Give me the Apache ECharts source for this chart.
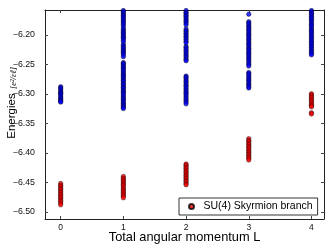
<!DOCTYPE html>
<html><head><meta charset="utf-8">
<script src="https://cdn.jsdelivr.net/npm/echarts@6/dist/echarts.min.js"></script>
<style>html,body{margin:0;padding:0;background:#fff}#c{width:332px;height:249px}</style>
</head><body><div id="c"></div>
<script>
var xTicks = [0, 1, 2, 3, 4];
var yTicks = [-6.50, -6.45, -6.40, -6.35, -6.30, -6.25, -6.20];

var blueL0 = [-6.288,-6.290,-6.292,-6.295,-6.297,-6.299,-6.300,-6.302,-6.305,-6.307,-6.309,-6.311,-6.313,-6.314];
var blueL1 = [-6.159,-6.161,-6.163,-6.166,-6.168,-6.170,-6.173,-6.175,-6.178,-6.180,-6.183,-6.186,
  -6.190,-6.192,-6.195,-6.197,-6.199,-6.202,-6.204,-6.206,-6.209,-6.212,
  -6.217,-6.219,-6.222,-6.224,-6.227,-6.229,-6.231,-6.234,-6.237,
  -6.247,-6.249,-6.251,-6.254,-6.256,-6.258,-6.261,-6.263,-6.266,-6.268,-6.270,-6.272,-6.275,-6.277,-6.279,-6.282,-6.284,-6.287,-6.289,-6.291,-6.294,-6.296,-6.298,-6.300,-6.303,-6.305,-6.308,-6.310,-6.312,-6.315,-6.317,-6.319,-6.321,-6.323,-6.325];
var blueL2 = [-6.159,-6.162,-6.164,-6.167,-6.169,-6.172,-6.175,-6.177,-6.180,-6.183,
  -6.190,-6.193,-6.195,-6.198,-6.200,-6.203,-6.205,-6.208,-6.211,-6.214,
  -6.220,-6.222,-6.225,-6.228,-6.231,-6.234,-6.236,-6.239,-6.242,-6.244,
  -6.270,-6.272,-6.275,-6.278,-6.280,-6.283,-6.286,-6.288,-6.291,-6.294,-6.297,-6.299,-6.302,-6.305,-6.308,-6.311,-6.314,-6.317];
var blueL3 = [-6.165,
  -6.178,-6.180,-6.183,-6.186,-6.188,-6.191,-6.193,-6.196,-6.199,-6.201,-6.204,-6.207,-6.209,-6.212,-6.215,-6.217,-6.220,-6.223,-6.225,-6.228,-6.231,-6.233,-6.236,-6.239,-6.241,-6.244,-6.247,-6.250,-6.253,
  -6.264,-6.266,-6.269,-6.272,-6.275,-6.277,-6.280,-6.283,-6.285,-6.288,-6.290];
var blueL4 = [-6.159,-6.161,-6.164,-6.166,-6.169,-6.171,-6.174,-6.176,-6.179,-6.182,-6.184,-6.187,-6.190,-6.192,-6.195,-6.197,-6.200,-6.203,-6.205,-6.208,-6.211,-6.213,-6.216,-6.219,-6.221,-6.224,-6.227,-6.229,-6.232,-6.234];

var redL0 = [-6.452,-6.455,-6.457,-6.460,-6.462,-6.465,-6.467,-6.470,-6.472,-6.475,-6.477,-6.480,-6.482,-6.485,-6.488];
var redL1 = [-6.440,-6.443,-6.445,-6.448,-6.450,-6.453,-6.455,-6.458,-6.461,-6.463,-6.466,-6.468,-6.471,-6.473,-6.476];
var redL2 = [-6.419,-6.421,-6.424,-6.426,-6.429,-6.432,-6.434,-6.437,-6.439,-6.442,-6.444,-6.447,-6.449,-6.452,-6.454];
var redL3 = [-6.376,-6.379,-6.381,-6.384,-6.386,-6.389,-6.391,-6.394,-6.397,-6.399,-6.402,-6.404,-6.407,-6.409,-6.412];
var redL4 = [-6.300,-6.302,-6.305,-6.307,-6.310,-6.312,-6.315,-6.318,-6.320,-6.322,-6.332,-6.334];

var legendName = 'SU(4) Skyrmion branch';
var xTitle = 'Total angular momentum L';
var yTitle = 'Energies';
var yUnit = '[e²/εℓ]';

function pairs(groups) {
  var out = [];
  groups.forEach(function (g, L) { g.forEach(function (v) { out.push([L, v]); }); });
  return out;
}
var blueData = pairs([blueL0, blueL1, blueL2, blueL3, blueL4]);
var redData = pairs([redL0, redL1, redL2, redL3, redL4]);

function fmt(v) { return (v < 0 ? '\u2212' : '') + Math.abs(v).toFixed(2); }

var chart = echarts.init(document.getElementById('c'), null, { renderer: 'canvas' });
chart.setOption({
  animation: false,
  grid: { left: 45, top: 10, right: 8, bottom: 30, containLabel: false },
  xAxis: [{ type: 'value', min: -0.25, max: 4.2, position: 'bottom',
    axisLine: { onZero: false, lineStyle: { color: '#222' } },
    axisTick: { inside: true, length: 3, customValues: xTicks, lineStyle: { color: '#444' } },
    axisLabel: { customValues: xTicks, fontSize: 8.5, color: '#111', margin: 4 },
    splitLine: { show: false } },
    { type: 'value', min: -0.25, max: 4.2, position: 'top',
    axisLine: { onZero: false, lineStyle: { color: '#222' } },
    axisTick: { inside: true, length: 3, customValues: xTicks, lineStyle: { color: '#444' } },
    axisLabel: { show: false }, splitLine: { show: false } }],
  yAxis: [{ type: 'value', min: -6.512, max: -6.158, position: 'left',
    axisLine: { onZero: false, lineStyle: { color: '#222' } },
    axisTick: { inside: true, length: 3, customValues: yTicks, lineStyle: { color: '#444' } },
    axisLabel: { customValues: yTicks, formatter: fmt, fontSize: 8.8, color: '#111', margin: 10 },
    splitLine: { show: false } },
    { type: 'value', min: -6.512, max: -6.158, position: 'right',
    axisLine: { onZero: false, lineStyle: { color: '#222' } },
    axisTick: { inside: true, length: 3, customValues: yTicks, lineStyle: { color: '#444' } },
    axisLabel: { show: false }, splitLine: { show: false } }],
  graphic: [
    { type: 'text', x: 184.5, y: 237, style: { text: xTitle, font: '12.8px sans-serif', fill: '#000', align: 'center', verticalAlign: 'middle' } },
    { type: 'text', x: 12, y: 116, rotation: Math.PI / 2, style: { text: yTitle, font: '11.5px sans-serif', fill: '#000', align: 'center', verticalAlign: 'middle' } },
    { type: 'text', x: 14, y: 78, rotation: Math.PI / 2, style: { text: yUnit, font: 'italic 8.5px serif', fill: '#000', align: 'center', verticalAlign: 'middle' } }
  ],
  legend: {
    data: [legendName], left: 179, top: 198,
    backgroundColor: '#fff', borderColor: '#000', borderWidth: 0.8, borderRadius: 0,
    padding: [3, 5, 3, 9], itemWidth: 8, itemHeight: 5,
    textStyle: { fontSize: 10.5, color: '#000', padding: [0, 0, 0, 3] }
  },
  series: [
    { name: 'blue', type: 'scatter', data: blueData, symbolSize: 4.5,
      itemStyle: { color: '#0000ff', borderColor: '#000', borderWidth: 0.5 } },
    { name: legendName, type: 'scatter', data: redData, symbolSize: 4.5,
      itemStyle: { color: '#ff0000', borderColor: '#000', borderWidth: 0.5 } }
  ]
});
</script></body></html>
